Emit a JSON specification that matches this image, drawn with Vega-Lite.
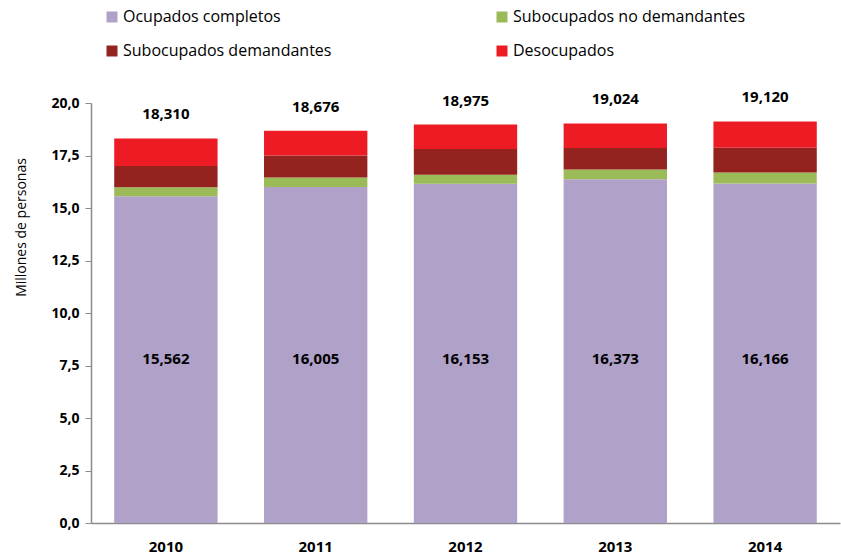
{
  "$schema": "https://vega.github.io/schema/vega-lite/v6.json",
  "width": 749,
  "height": 420,
  "autosize": {"type": "none"},
  "padding": {"left": 91, "top": 103, "right": 1, "bottom": 36},
  "config": {
    "locale": {"number": {"decimal": ",", "thousands": ".", "grouping": [3], "currency": ["$", ""]}},
    "view": {"stroke": null},
    "font": "Open Sans"
  },
  "datasets": {
    "segmentos": [
      {"anio": "2010", "categoria": "Ocupados completos", "orden": 1, "valor": 15.562},
      {"anio": "2010", "categoria": "Subocupados no demandantes", "orden": 2, "valor": 0.43},
      {"anio": "2010", "categoria": "Subocupados demandantes", "orden": 3, "valor": 1.01},
      {"anio": "2010", "categoria": "Desocupados", "orden": 4, "valor": 1.308},
      {"anio": "2011", "categoria": "Ocupados completos", "orden": 1, "valor": 16.005},
      {"anio": "2011", "categoria": "Subocupados no demandantes", "orden": 2, "valor": 0.45},
      {"anio": "2011", "categoria": "Subocupados demandantes", "orden": 3, "valor": 1.04},
      {"anio": "2011", "categoria": "Desocupados", "orden": 4, "valor": 1.181},
      {"anio": "2012", "categoria": "Ocupados completos", "orden": 1, "valor": 16.153},
      {"anio": "2012", "categoria": "Subocupados no demandantes", "orden": 2, "valor": 0.43},
      {"anio": "2012", "categoria": "Subocupados demandantes", "orden": 3, "valor": 1.23},
      {"anio": "2012", "categoria": "Desocupados", "orden": 4, "valor": 1.162},
      {"anio": "2013", "categoria": "Ocupados completos", "orden": 1, "valor": 16.373},
      {"anio": "2013", "categoria": "Subocupados no demandantes", "orden": 2, "valor": 0.46},
      {"anio": "2013", "categoria": "Subocupados demandantes", "orden": 3, "valor": 1.02},
      {"anio": "2013", "categoria": "Desocupados", "orden": 4, "valor": 1.171},
      {"anio": "2014", "categoria": "Ocupados completos", "orden": 1, "valor": 16.166},
      {"anio": "2014", "categoria": "Subocupados no demandantes", "orden": 2, "valor": 0.52},
      {"anio": "2014", "categoria": "Subocupados demandantes", "orden": 3, "valor": 1.18},
      {"anio": "2014", "categoria": "Desocupados", "orden": 4, "valor": 1.254}
    ],
    "totales": [
      {"anio": "2010", "total": 18.310, "ocupados": 15.562},
      {"anio": "2011", "total": 18.676, "ocupados": 16.005},
      {"anio": "2012", "total": 18.975, "ocupados": 16.153},
      {"anio": "2013", "total": 19.024, "ocupados": 16.373},
      {"anio": "2014", "total": 19.120, "ocupados": 16.166}
    ]
  },
  "encoding": {
    "x": {
      "field": "anio",
      "type": "ordinal",
      "scale": {"paddingInner": 0.31, "paddingOuter": 0.155},
      "axis": {
        "title": null,
        "labelAngle": 0,
        "labelFont": "Open Sans",
        "labelFontSize": 15,
        "labelFontWeight": "bold",
        "labelColor": "#000000",
        "labelPadding": 16,
        "ticks": false,
        "domainColor": "#8c8c8c",
        "domainWidth": 1.5
      }
    }
  },
  "layer": [
    {
      "data": {"name": "segmentos"},
      "mark": {"type": "bar"},
      "encoding": {
        "y": {
          "field": "valor",
          "type": "quantitative",
          "stack": "zero",
          "scale": {"domain": [0, 20], "nice": false},
          "axis": {
            "title": "Millones de personas",
            "titleFont": "Open Sans",
            "titleFontSize": 14,
            "titleFontWeight": "normal",
            "titleColor": "#000000",
            "titleAngle": 270,
            "titleX": -70,
            "titleY": 124,
            "titleAlign": "center",
            "titleBaseline": "middle",
            "values": [0, 2.5, 5, 7.5, 10, 12.5, 15, 17.5, 20],
            "format": ".1f",
            "labelFont": "Open Sans",
            "labelFontSize": 14,
            "labelFontWeight": "bold",
            "labelColor": "#000000",
            "labelPadding": 6,
            "grid": false,
            "tickColor": "#8c8c8c",
            "tickSize": 6,
            "domainColor": "#8c8c8c",
            "domainWidth": 1.5
          }
        },
        "color": {
          "field": "categoria",
          "type": "nominal",
          "scale": {
            "domain": ["Ocupados completos", "Subocupados no demandantes", "Subocupados demandantes", "Desocupados"],
            "range": ["#B0A1C8", "#9BBB59", "#94221F", "#ED1C24"]
          },
          "legend": {
            "title": null,
            "orient": "none",
            "legendX": 13,
            "legendY": -94,
            "direction": "horizontal",
            "columns": 2,
            "columnPadding": 162,
            "rowPadding": 18,
            "symbolType": "square",
            "symbolSize": 121,
            "symbolStrokeWidth": 0,
            "labelFont": "Open Sans",
            "labelFontSize": 16,
            "labelColor": "#000000",
            "labelOffset": 3,
            "labelLimit": 400
          }
        },
        "order": {"field": "orden", "type": "quantitative"}
      }
    },
    {
      "data": {"name": "totales"},
      "mark": {"type": "text", "dy": -24, "fontSize": 15, "fontWeight": "bold", "color": "#000000", "font": "Open Sans"},
      "encoding": {
        "y": {"field": "total", "type": "quantitative"},
        "text": {"field": "total", "type": "quantitative", "format": ".3f"}
      }
    },
    {
      "data": {"name": "totales"},
      "mark": {"type": "text", "fontSize": 15, "fontWeight": "bold", "color": "#000000", "font": "Open Sans"},
      "encoding": {
        "y": {"datum": 7.8, "type": "quantitative"},
        "text": {"field": "ocupados", "type": "quantitative", "format": ".3f"}
      }
    }
  ]
}
